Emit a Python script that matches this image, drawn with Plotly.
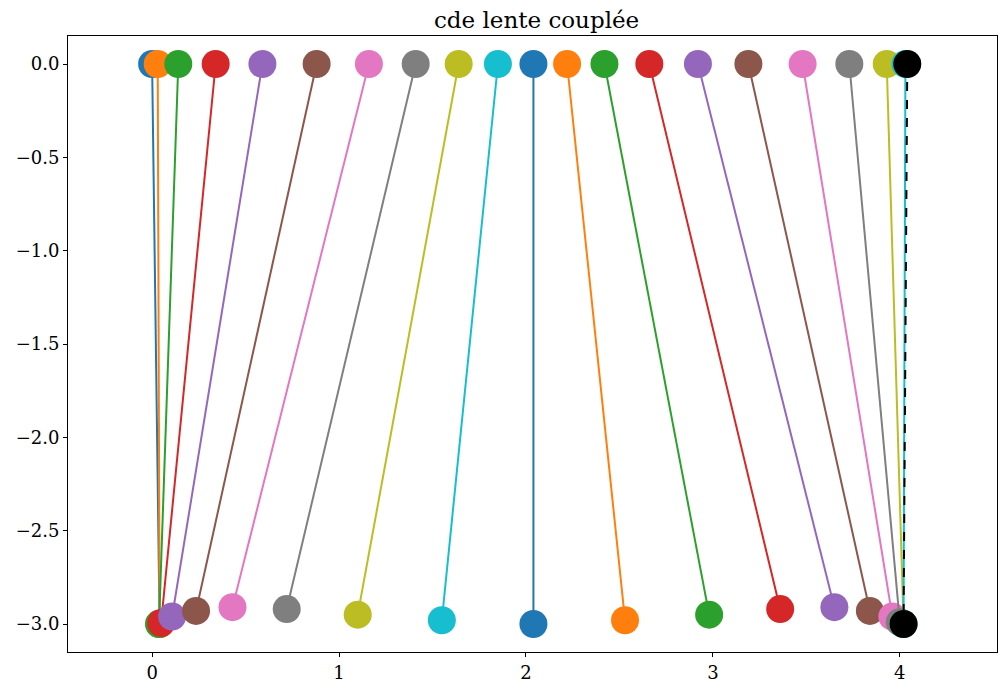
import plotly.graph_objects as go

colors = ["#1f77b4", "#ff7f0e", "#2ca02c", "#d62728", "#9467bd",
          "#8c564b", "#e377c2", "#7f7f7f", "#bcbd22", "#17becf"] * 2 + ["#000000"]

x_top = [0.0, 0.03, 0.14, 0.34, 0.59, 0.88, 1.16, 1.41, 1.64, 1.85,
         2.04, 2.22, 2.42, 2.66, 2.92, 3.19, 3.48, 3.73, 3.93, 4.03, 4.04]
y_top = [0.0] * 21
x_bot = [0.04, 0.04, 0.037, 0.048, 0.107, 0.235, 0.43, 0.72, 1.10, 1.55,
         2.04, 2.53, 2.98, 3.36, 3.65, 3.84, 3.96, 4.0, 4.02, 4.02, 4.02]
y_bot = [-3.0, -3.0, -3.0, -2.995, -2.96, -2.93, -2.91, -2.92, -2.95, -2.98,
         -3.0, -2.98, -2.95, -2.92, -2.91, -2.93, -2.96, -2.99, -3.0, -3.0, -3.0]

fig = go.Figure()
for i in range(len(x_top)):
    fig.add_trace(go.Scatter(
        x=[x_top[i], x_bot[i]], y=[y_top[i], y_bot[i]],
        mode="lines+markers",
        line=dict(color=colors[i], width=2, dash="dash" if i == len(x_top) - 1 else "solid"),
        marker=dict(color=colors[i], size=28, line=dict(width=0)),
        showlegend=False, hoverinfo="skip"))

axis_common = dict(showline=True, linecolor="black", linewidth=1, mirror=True,
                   ticks="outside", ticklen=4, tickcolor="black", showgrid=False,
                   zeroline=False, automargin=False,
                   tickfont=dict(family="DejaVu Serif", size=18, color="black"))
fig.update_xaxes(range=[-0.45, 4.52], tickvals=[0, 1, 2, 3, 4], **axis_common)
fig.update_yaxes(range=[-3.15, 0.15], tickvals=[0, -0.5, -1, -1.5, -2, -2.5, -3],
                 tickformat=".1f", **axis_common)
fig.update_layout(
    width=999, height=682,
    margin=dict(l=60, r=10, t=28, b=38),
    paper_bgcolor="white", plot_bgcolor="white",
    title=dict(text="cde lente couplée", x=0.5291, xanchor="center", y=0.983, yanchor="middle",
               font=dict(family="DejaVu Serif", size=23, color="black")),
)
fig.write_html("out.html")
